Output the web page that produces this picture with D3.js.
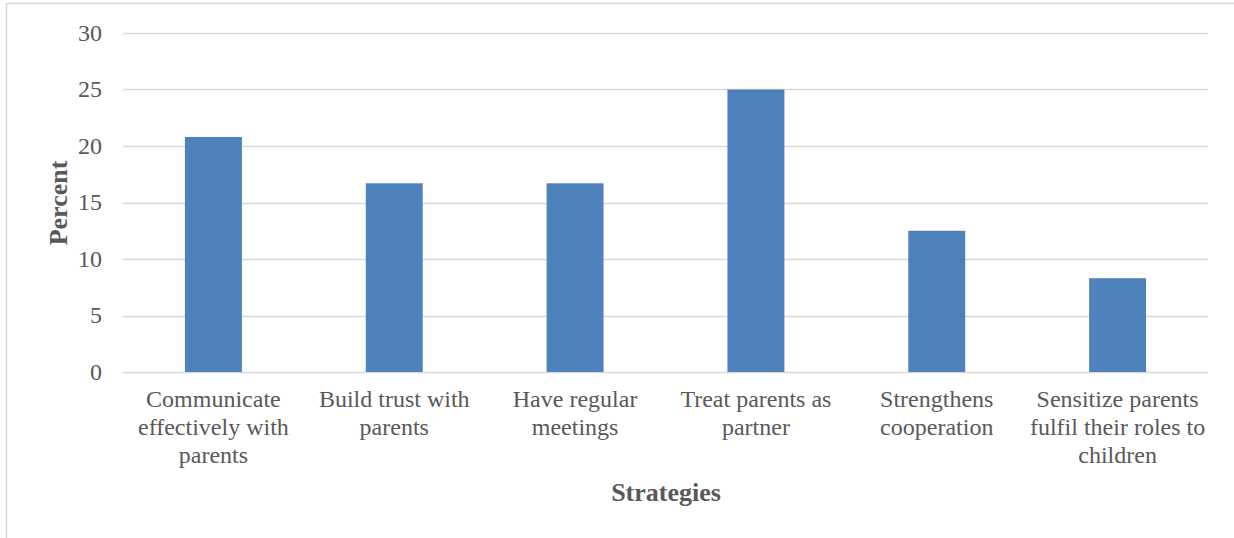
<!DOCTYPE html>
<html>
<head>
<meta charset="utf-8">
<script src="https://cdn.jsdelivr.net/npm/d3@7"></script>
<style>
  html, body { margin: 0; padding: 0; background: #fff; }
  svg { display: block; }
  text { font-family: "Liberation Serif", "Times New Roman", serif; }
</style>
</head>
<body>
<svg id="chart" width="1234" height="538"></svg>
<script>
// Strategies and their share of responses (%)
const categories = [
  ["Communicate", "effectively with", "parents"],
  ["Build trust with", "parents"],
  ["Have regular", "meetings"],
  ["Treat parents as", "partner"],
  ["Strengthens", "cooperation"],
  ["Sensitize parents", "fulfil their roles to", "children"]
];
const percents = [20.8, 16.7, 16.7, 25.0, 12.5, 8.3];
const yTicks = [0, 5, 10, 15, 20, 25, 30];

const svg = d3.select("#chart");
const W = 1234, H = 538;
const plot = { left: 123, right: 1208, top: 33, bottom: 372 };

// Outer chart frame (only the top and left edges fall inside the view)
svg.append("path")
  .attr("d", `M6.5,${H} L6.5,3.5 L${W},3.5`)
  .attr("fill", "none")
  .attr("stroke", "#d9d9d9")
  .attr("stroke-width", 1.5);

const ids = categories.map((_, i) => i);
const x = d3.scaleBand().domain(ids).range([plot.left, plot.right]).paddingInner(0.685).paddingOuter(0.3425);
const y = d3.scaleLinear().domain([0, 30]).range([plot.bottom, plot.top]);

// Horizontal gridlines
svg.append("g")
  .selectAll("line")
  .data(yTicks)
  .join("line")
  .attr("x1", plot.left).attr("x2", plot.right)
  .attr("y1", d => Math.round(y(d)) + 0.5)
  .attr("y2", d => Math.round(y(d)) + 0.5)
  .attr("stroke", "#d9d9d9")
  .attr("stroke-width", 1.5);

// Y tick labels
svg.append("g")
  .selectAll("text")
  .data(yTicks)
  .join("text")
  .attr("x", 102)
  .attr("y", d => y(d))
  .attr("dy", "0.33em")
  .attr("text-anchor", "end")
  .attr("font-size", 24)
  .attr("fill", "#595959")
  .text(d => d);

// Bars
svg.append("g")
  .selectAll("rect")
  .data(percents)
  .join("rect")
  .attr("x", (d, i) => x(i))
  .attr("width", x.bandwidth())
  .attr("y", d => y(d))
  .attr("height", d => y(0) - y(d))
  .attr("fill", "#4f81bd");

// Category labels (multi-line)
const catG = svg.append("g");
categories.forEach((lines, i) => {
  const t = catG.append("text")
    .attr("text-anchor", "middle")
    .attr("font-size", 24)
    .attr("fill", "#595959");
  lines.forEach((ln, j) => {
    t.append("tspan")
      .attr("x", x(i) + x.bandwidth() / 2)
      .attr("y", 407 + j * 28)
      .text(ln);
  });
});

// Axis titles
svg.append("text")
  .attr("transform", "translate(67,203) rotate(-90)")
  .attr("text-anchor", "middle")
  .attr("font-size", 26)
  .attr("font-weight", "bold")
  .attr("fill", "#595959")
  .text("Percent");

svg.append("text")
  .attr("x", 666)
  .attr("y", 501)
  .attr("text-anchor", "middle")
  .attr("font-size", 26)
  .attr("font-weight", "bold")
  .attr("fill", "#595959")
  .text("Strategies");
</script>
</body>
</html>
